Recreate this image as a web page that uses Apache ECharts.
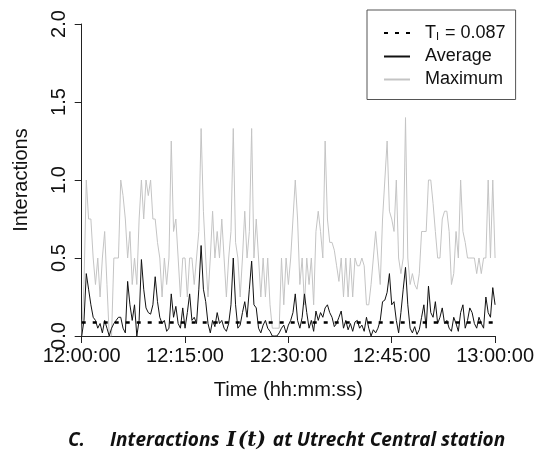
<!DOCTYPE html>
<html>
<head>
<meta charset="utf-8">
<script src="https://cdn.jsdelivr.net/npm/echarts@6/dist/echarts.min.js"></script>
<style>
  html, body { margin: 0; padding: 0; background: #fff; }
  #chart { width: 537px; height: 452px; }
</style>
</head>
<body>
<div id="chart"></div>
<script>
// One sample every 20 seconds, 12:00:00 to 13:00:00
const sampleSeconds = 20;

const tickLabels = ['12:00:00', '12:15:00', '12:30:00', '12:45:00', '13:00:00'];

const thresholdValue = 0.087;

// Average interactions per sample
const avgValues = [
  0, 0.1, 0.4, 0.3, 0.2, 0.12, 0.1, 0.05, 0.08, 0.02,
  0.1, 0.05, 0, 0.05, 0.08, 0.1, 0.12, 0.12, 0.05, 0.02,
  0.35, 0.2, 0.1, 0.2, 0, 0.1, 0.49, 0.3, 0.18, 0.15,
  0.14, 0.2, 0.38, 0.22, 0.12, 0.08, 0.1, 0.03, 0.05, 0.27,
  0.12, 0.19, 0.08, 0.05, 0.18, 0.05, 0.15, 0.27, 0.1, 0.12,
  0.08, 0.3, 0.58, 0.3, 0.22, 0.08, 0.02, 0.1, 0.06, 0.15,
  0.08, 0.1, 0.05, 0.03, 0.08, 0.2, 0.5, 0.2, 0.05, 0.07,
  0.15, 0.22, 0.12, 0.3, 0.48, 0.2, 0.18, 0.05, 0.02, 0.07,
  0.1, 0.05, 0.03, 0, 0, 0, 0.02, 0.05, 0.07, 0.02,
  0.07, 0.1, 0.15, 0.27, 0.1, 0.05, 0.12, 0.27, 0.15, 0.05,
  0.1, 0.03, 0.16, 0.1, 0.15, 0.12, 0.18, 0.2, 0.15, 0.12,
  0.06, 0.08, 0.12, 0.16, 0.05, 0.1, 0.04, 0.08, 0.03, 0.09,
  0.1, 0.05, 0.07, 0.03, 0.12, 0.05, 0, 0.04, 0.02, 0.05,
  0.1, 0.22, 0.23, 0.28, 0.4, 0.2, 0.22, 0.1, 0.02, 0.15,
  0.3, 0.44, 0.2, 0.05, 0.02, 0.06, 0.01, 0.04, 0.12, 0.2,
  0.05, 0.32, 0.15, 0.12, 0.22, 0.08, 0.12, 0.18, 0.08, 0.1,
  0.05, 0.03, 0.12, 0.08, 0.03, 0.15, 0.2, 0.05, 0.1, 0.18,
  0.15, 0.08, 0.05, 0.12, 0.08, 0.05, 0.25, 0.15, 0.12, 0.31,
  0.2
];

// Maximum interactions per sample
const maxValues = [
  0, 0.33, 1.0, 0.75, 0.75, 0.5, 0.33, 0.5, 0.25, 0.5,
  0.67, 0.33, 0, 0, 0.5, 0.5, 0.5, 1.0, 0.9, 0.75,
  0.5, 0.67, 0.33, 0.5, 0.33, 0.75, 1.0, 0.75, 1.0, 0.9,
  1.0, 0.75, 0.75, 0.6, 0.5, 0.25, 0.5, 0.33, 0.5, 1.25,
  0.67, 0.75, 0.5, 0.25, 0.5, 0.5, 0.25, 0.5, 0.5, 0.33,
  0.5, 0.67, 1.33, 0.8, 0.5, 0.25, 0.5, 0.8, 0.5, 0.67,
  0.5, 0.75, 0.5, 0.25, 0.5, 0.67, 1.33, 0.6, 0.5, 0.25,
  0.5, 0.8, 0.5, 0.67, 1.33, 0.5, 0.75, 0.5, 0.25, 0.5,
  0.25, 0.5, 0.2, 0.05, 0.05, 0.05, 0.05, 0.5, 0.2, 0.5,
  0.33, 0.5, 0.75, 1.0, 0.75, 0.33, 0.5, 0.2, 0.5, 0.33,
  0.5, 0.2, 0.67, 0.8, 0.67, 0.5, 1.25, 0.75, 0.6, 0.6,
  0.55, 0.45, 0.35, 0.5, 0.25, 0.5, 0.25, 0.5, 0.25, 0.5,
  0.45, 0.45, 0.5, 0.45, 0.2, 0.2, 0.33, 0.5, 0.67, 0.5,
  0.33, 0.75, 1.0, 1.25, 0.8, 0.75, 0.67, 1.0, 0.5, 0.4,
  0.5, 1.4, 0.5, 0.33, 0.4, 0.33, 0.3, 0.4, 0.67, 0.67,
  0.67, 1.0, 1.0, 0.85, 0.67, 0.5, 0.5, 0.75, 0.8, 0.8,
  0.67, 0.33, 0.4, 0.67, 0.5, 1.0, 0.67, 0.6, 0.5, 0.5,
  0.5, 0.5, 0.4, 0.5, 0.4, 0.5, 0.5, 1.0, 0.5, 1.0,
  0.5
];

const toSeries = values => values.map((v, i) => [i * sampleSeconds, v]);
const endSeconds = (tickLabels.length - 1) * 900;

const baseFont = 'Liberation Sans, Arial, Helvetica, sans-serif';
const captionFont = 'Open Sans';
const mathFont = 'DejaVu Serif';
const chart = echarts.init(document.getElementById('chart'), null, { renderer: 'canvas' });

chart.setOption({
  animation: false,
  backgroundColor: '#ffffff',
  textStyle: { fontFamily: baseFont },
  title: {
    left: 63,
    top: 426,
    text: '{c|C.}{gap|}{t|Interactions }{m|I}{p|(t)}{t| at Utrecht Central station}',
    textStyle: {
      rich: {
        c: { fontFamily: captionFont, fontStyle: 'italic', fontWeight: 'bold', fontSize: 19, color: '#111' },
        gap: { width: 25 },
        t: { fontFamily: captionFont, fontStyle: 'italic', fontWeight: 'bold', fontSize: 19, color: '#111' },
        m: { fontFamily: mathFont, fontStyle: 'italic', fontWeight: 'bold', fontSize: 20, color: '#111', padding: [0, 2, 0, 2] },
        p: { fontFamily: mathFont, fontStyle: 'italic', fontSize: 20, color: '#111', padding: [0, 2, 0, 0] }
      }
    }
  },
  legend: {
    orient: 'vertical',
    left: 367,
    top: 10,
    width: 147,
    padding: [14, 10, 11, 16],
    borderColor: '#555',
    borderWidth: 1,
    backgroundColor: '#fff',
    borderRadius: 0,
    itemWidth: 26,
    itemHeight: 18,
    itemGap: 5,
    itemStyle: { opacity: 0 },
    data: ['threshold', 'Average', 'Maximum'],
    formatter: name => name === 'threshold'
      ? '{a|T}{s|I}{a| = 0.087}'
      : '{a|' + name + '}',
    textStyle: {
      padding: [0, 0, 0, 10],
      rich: {
        a: { fontSize: 18, color: '#111', fontFamily: baseFont },
        s: { fontSize: 11, color: '#111', fontFamily: baseFont, padding: [8, 1, 0, 0] }
      }
    }
  },
  grid: { left: 81.7, right: 39.3, top: 24, bottom: 116 },
  xAxis: {
    type: 'value',
    min: 0,
    max: endSeconds,
    interval: 900,
    name: 'Time (hh:mm:ss)',
    nameLocation: 'middle',
    nameGap: 44,
    nameTextStyle: { fontSize: 20, color: '#111' },
    axisLine: { onZero: false, lineStyle: { color: '#222', width: 1 } },
    axisTick: { inside: false, length: 7, lineStyle: { color: '#222' } },
    axisLabel: {
      fontSize: 20,
      color: '#111',
      margin: 10,
      formatter: v => tickLabels[Math.round(v / 900)]
    },
    splitLine: { show: false }
  },
  yAxis: {
    type: 'value',
    min: 0,
    max: 2,
    interval: 0.5,
    name: 'Interactions',
    nameLocation: 'middle',
    nameRotate: 90,
    nameGap: 50,
    nameTextStyle: { fontSize: 20, color: '#111' },
    axisLine: { show: true, lineStyle: { color: '#222', width: 1 } },
    axisTick: { show: true, inside: false, length: 7, lineStyle: { color: '#222' } },
    axisLabel: {
      fontSize: 20,
      color: '#111',
      rotate: 90,
      margin: 12,
      formatter: v => v.toFixed(1)
    },
    splitLine: { show: false }
  },
  series: [
    {
      name: 'Maximum',
      type: 'line',
      symbol: 'none',
      data: toSeries(maxValues),
      lineStyle: { color: '#c4c4c4', width: 1 },
      itemStyle: { color: '#c4c4c4' },
      z: 1
    },
    {
      name: 'Average',
      type: 'line',
      symbol: 'none',
      data: toSeries(avgValues),
      lineStyle: { color: '#111', width: 1 },
      itemStyle: { color: '#111' },
      z: 2
    },
    {
      name: 'threshold',
      type: 'line',
      symbol: 'none',
      data: [[0, thresholdValue], [endSeconds, thresholdValue]],
      lineStyle: { color: '#000', width: 2.5, type: [4, 7] },
      itemStyle: { color: '#000' },
      z: 3
    }
  ]
});
</script>
</body>
</html>
